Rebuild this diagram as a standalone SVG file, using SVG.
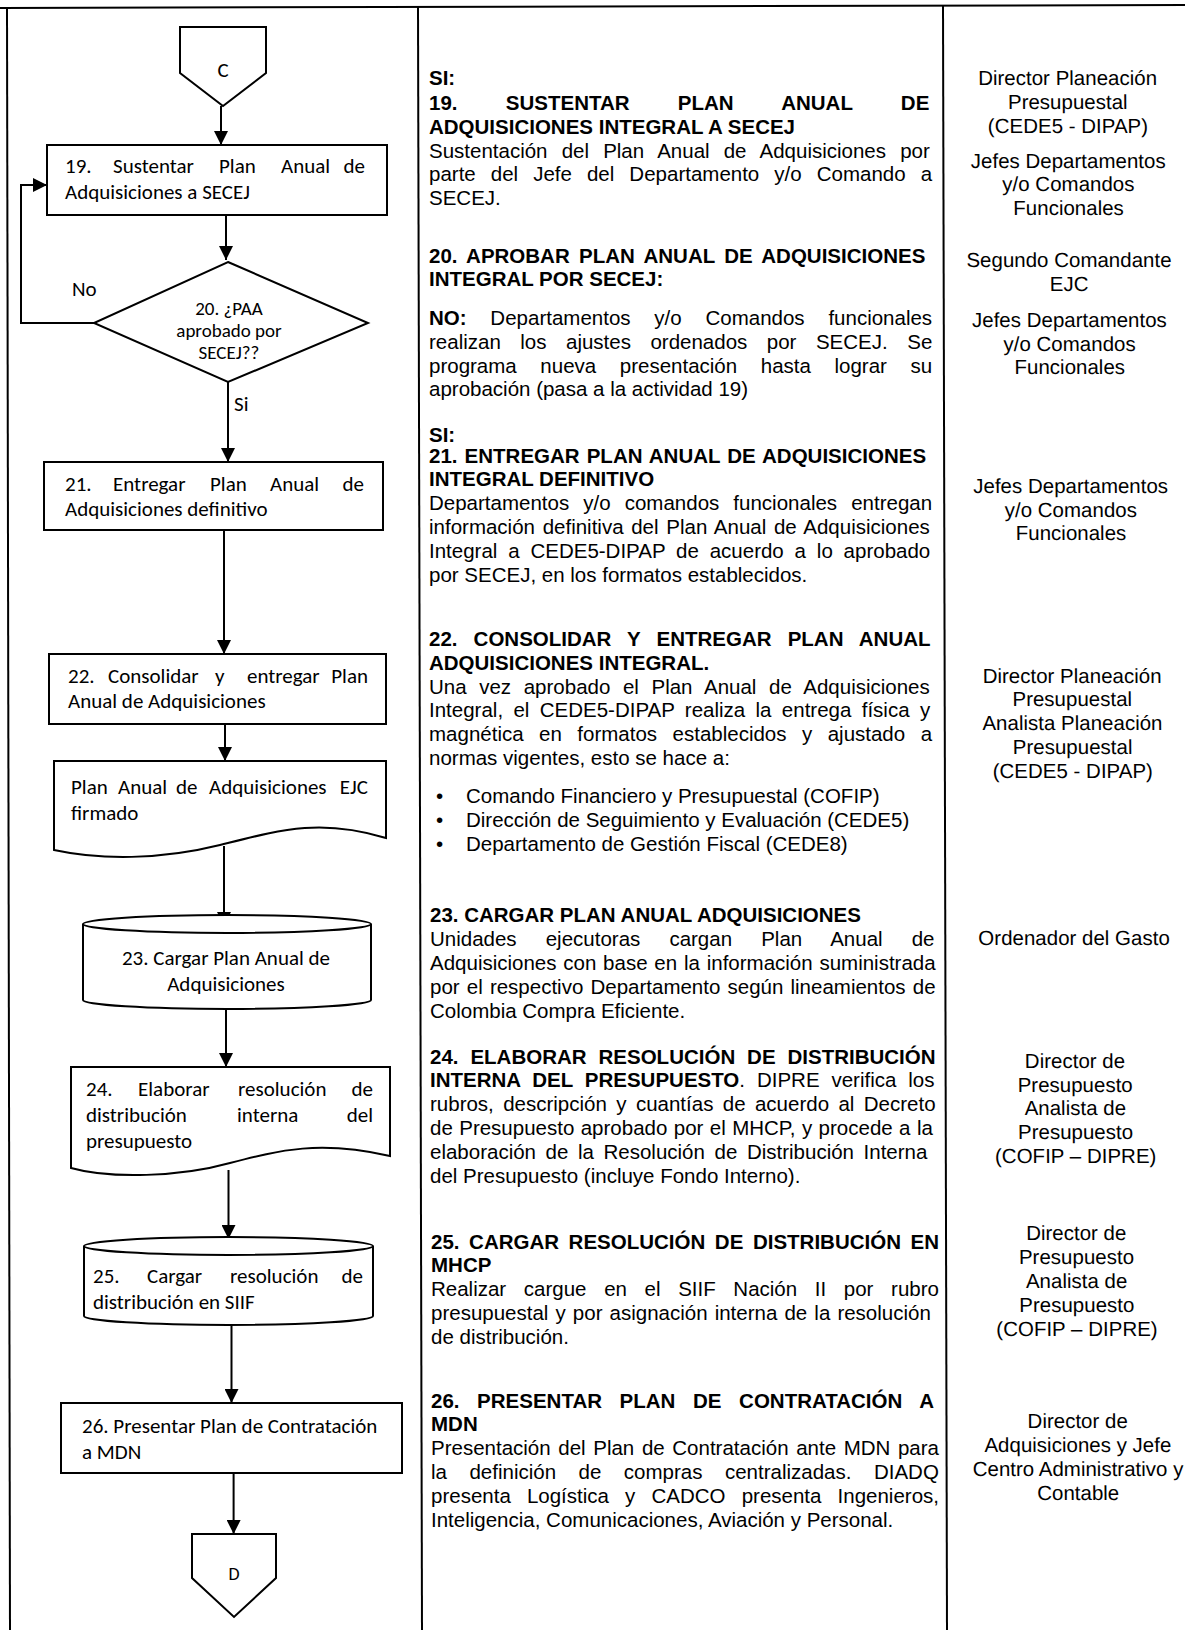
<svg xmlns="http://www.w3.org/2000/svg" width="1185" height="1630" viewBox="0 0 1185 1630">
<defs>
<marker id="ah" viewBox="0 0 14 14" refX="14" refY="7" markerWidth="14" markerHeight="14" markerUnits="userSpaceOnUse" orient="auto"><path d="M0,0 L14,7 L0,14 Z" fill="#000"/></marker>
<style>
.fr{fill:none;stroke:#000;stroke-width:2}
.sh{fill:#fff;stroke:#000;stroke-width:2}
.cn{fill:none;stroke:#000;stroke-width:2;marker-end:url(#ah)}
.lt{font-family:Carlito,Lato,"Open Sans",sans-serif;font-size:21px;fill:#000}
.ltm{font-family:Carlito,Lato,"Open Sans",sans-serif;font-size:21px;fill:#000;text-anchor:middle}
.lte{font-family:Carlito,Lato,"Open Sans",sans-serif;font-size:21px;fill:#000;text-anchor:end}
.dt{font-family:Carlito,Lato,"Open Sans",sans-serif;font-size:19px;fill:#000;text-anchor:middle}
.m{font-family:"Liberation Sans",Arial,sans-serif;font-size:20.5px;fill:#000}
.mb{font-family:"Liberation Sans",Arial,sans-serif;font-size:20.5px;font-weight:bold;fill:#000}
.r{font-family:"Liberation Sans",Arial,sans-serif;font-size:20.5px;fill:#000;text-anchor:middle}
</style>
</defs>
<rect width="1185" height="1630" fill="#fff"/>
<g id="frame">
<path class="fr" d="M0,8 L1185,5" stroke-width="2.5"/>
<path class="fr" d="M7,8 L10,1630"/>
<path class="fr" d="M418,7 L422,1630"/>
<path class="fr" d="M943,6 L947,1630"/>
</g>
<g id="connectors">
<path class="cn" d="M221,106 V145"/>
<path class="cn" d="M226,215 V260"/>
<path class="cn" d="M94,323 H21 V185 H47"/>
<path class="cn" d="M228,382 V462"/>
<path class="cn" d="M224,530 V654"/>
<path class="cn" d="M225,724 V761"/>
<path class="cn" d="M224,846 V926"/>
<path class="cn" d="M226,1009 V1067"/>
<path class="cn" d="M228.5,1170 V1239"/>
<path class="cn" d="M231.5,1325 V1403"/>
<path class="cn" d="M233.6,1473 V1534"/>
<text class="lt" x="72" y="296">No</text>
<text class="lt" x="234" y="411">Si</text>
</g>
<g id="nodeC">
<path class="sh" d="M180,27 H266 V73 L223,106 L180,73 Z"/>
<text class="ltm" x="223" y="77">C</text>
</g>
<g id="node19">
<rect class="sh" x="47" y="145" width="340" height="70"/>
<text class="lt" y="173"><tspan x="65">19.</tspan><tspan x="113">Sustentar</tspan><tspan x="219">Plan</tspan><tspan x="281">Anual</tspan></text>
<text class="lte" x="365" y="173">de</text>
<text class="lt" x="65" y="199">Adquisiciones a SECEJ</text>
</g>
<g id="node20">
<path class="sh" d="M228,262 L368,323 L228,382 L94,323 Z"/>
<text class="dt" x="229" y="315">20. ¿PAA</text>
<text class="dt" x="229" y="337">aprobado por</text>
<text class="dt" x="229" y="359">SECEJ??</text>
</g>
<g id="node21">
<rect class="sh" x="44" y="462" width="339" height="68"/>
<text class="lt" y="491"><tspan x="65">21.</tspan><tspan x="113">Entregar</tspan><tspan x="210">Plan</tspan><tspan x="270">Anual</tspan></text>
<text class="lte" x="364" y="491">de</text>
<text class="lt" x="65" y="516">Adquisiciones definitivo</text>
</g>
<g id="node22">
<rect class="sh" x="49" y="654" width="337" height="70"/>
<text class="lt" y="683"><tspan x="68">22.</tspan><tspan x="108">Consolidar</tspan><tspan x="215">y</tspan><tspan x="247">entregar</tspan></text>
<text class="lte" x="368" y="683">Plan</text>
<text class="lt" x="68" y="708">Anual de Adquisiciones</text>
</g>
<g id="nodeDoc">
<path class="sh" d="M54,761 H386 V838 C320,818 280,830 220,845 C160,860 100,860 54,850 Z"/>
<text class="lt" y="794"><tspan x="71">Plan</tspan><tspan x="118">Anual</tspan><tspan x="176">de</tspan><tspan x="209">Adquisiciones</tspan></text>
<text class="lte" x="368" y="794">EJC</text>
<text class="lt" x="71" y="820">firmado</text>
</g>
<g id="node23">
<path class="sh" d="M83,924 V1000 A144,9 0 0 0 371,1000 V924 A144,9 0 0 0 83,924 Z"/>
<path class="fr" d="M83,924 A144,9 0 0 0 371,924"/>
<text class="ltm" x="226" y="965">23. Cargar Plan Anual de</text>
<text class="ltm" x="226" y="991">Adquisiciones</text>
</g>
<g id="node24">
<path class="sh" d="M71,1067 H390 V1156 C320,1140 280,1150 230,1163 C180,1177 110,1179 71,1168 Z"/>
<text class="lt" y="1096"><tspan x="86">24.</tspan><tspan x="138">Elaborar</tspan><tspan x="238">resolución</tspan></text>
<text class="lte" x="373" y="1096">de</text>
<text class="lt" y="1122"><tspan x="86">distribución</tspan><tspan x="237">interna</tspan></text>
<text class="lte" x="373" y="1122">del</text>
<text class="lt" x="86" y="1148">presupuesto</text>
</g>
<g id="node25">
<path class="sh" d="M84,1246 V1316 A144.5,9 0 0 0 373,1316 V1246 A144.5,9 0 0 0 84,1246 Z"/>
<path class="fr" d="M84,1246 A144.5,9 0 0 0 373,1246"/>
<text class="lt" y="1283"><tspan x="93">25.</tspan><tspan x="147">Cargar</tspan><tspan x="230">resolución</tspan></text>
<text class="lte" x="363" y="1283">de</text>
<text class="lt" x="93" y="1309">distribución en SIIF</text>
</g>
<g id="node26">
<rect class="sh" x="61" y="1403" width="341" height="70"/>
<text class="lt" x="82" y="1433">26. Presentar Plan de Contratación</text>
<text class="lt" x="82" y="1459">a MDN</text>
</g>
<g id="nodeD">
<path class="sh" d="M192,1534 H276 V1578 L234,1617 L192,1578 Z"/>
<text class="ltm" x="234" y="1580" style="font-size:18px">D</text>
</g>
<g id="descriptions">
<text class="mb" x="429" y="85">SI:</text>
<text class="mb" x="429" y="110" style="word-spacing:42.6px">19. SUSTENTAR PLAN ANUAL DE</text>
<text class="mb" x="429" y="133.5">ADQUISICIONES INTEGRAL A SECEJ</text>
<text class="m" x="429" y="157.5" style="word-spacing:8.43px">Sustentación del Plan Anual de Adquisiciones por</text>
<text class="m" x="429" y="181.3" style="word-spacing:9.35px">parte del Jefe del Departamento y/o Comando a</text>
<text class="m" x="429" y="205">SECEJ.</text>
<text class="mb" x="429" y="262.5" style="word-spacing:3.66px">20. APROBAR PLAN ANUAL DE ADQUISICIONES</text>
<text class="mb" x="429" y="286">INTEGRAL POR SECEJ:</text>
<text class="m" x="429" y="325" style="word-spacing:18.1px"><tspan font-weight="bold">NO:</tspan> Departamentos y/o Comandos funcionales</text>
<text class="m" x="429" y="348.8" style="word-spacing:13.8px">realizan los ajustes ordenados por SECEJ. Se</text>
<text class="m" x="429" y="372.6" style="word-spacing:17.9px">programa nueva presentación hasta lograr su</text>
<text class="m" x="429" y="396.4">aprobación (pasa a la actividad 19)</text>
<text class="mb" x="429" y="442">SI:</text>
<text class="mb" x="429" y="462.5" style="word-spacing:1.38px">21. ENTREGAR PLAN ANUAL DE ADQUISICIONES</text>
<text class="mb" x="429" y="486.3">INTEGRAL DEFINITIVO</text>
<text class="m" x="429" y="510.1" style="word-spacing:8.4px">Departamentos y/o comandos funcionales entregan</text>
<text class="m" x="429" y="533.9" style="word-spacing:1.98px">información definitiva del Plan Anual de Adquisiciones</text>
<text class="m" x="429" y="557.7" style="word-spacing:5.13px">Integral a CEDE5-DIPAP de acuerdo a lo aprobado</text>
<text class="m" x="429" y="581.5">por SECEJ, en los formatos establecidos.</text>
<text class="mb" x="429" y="646" style="word-spacing:10.4px">22. CONSOLIDAR Y ENTREGAR PLAN ANUAL</text>
<text class="mb" x="429" y="669.8">ADQUISICIONES INTEGRAL.</text>
<text class="m" x="429" y="693.6" style="word-spacing:6.9px">Una vez aprobado el Plan Anual de Adquisiciones</text>
<text class="m" x="429" y="717.4" style="word-spacing:4.64px">Integral, el CEDE5-DIPAP realiza la entrega física y</text>
<text class="m" x="429" y="741.2" style="word-spacing:9.77px">magnética en formatos establecidos y ajustado a</text>
<text class="m" x="429" y="765">normas vigentes, esto se hace a:</text>
<text class="m" x="436" y="803">•</text><text class="m" x="466" y="803">Comando Financiero y Presupuestal (COFIP)</text>
<text class="m" x="436" y="827">•</text><text class="m" x="466" y="827">Dirección de Seguimiento y Evaluación (CEDE5)</text>
<text class="m" x="436" y="851">•</text><text class="m" x="466" y="851">Departamento de Gestión Fiscal (CEDE8)</text>
<text class="mb" x="430" y="922.4">23. CARGAR PLAN ANUAL ADQUISICIONES</text>
<text class="m" x="430" y="946.2" style="word-spacing:23.4px">Unidades ejecutoras cargan Plan Anual de</text>
<text class="m" x="430" y="970" style="word-spacing:1.09px">Adquisiciones con base en la información suministrada</text>
<text class="m" x="430" y="993.8" style="word-spacing:1.45px">por el respectivo Departamento según lineamientos de</text>
<text class="m" x="430" y="1017.6">Colombia Compra Eficiente.</text>
<text class="mb" x="430" y="1063.6" style="word-spacing:6.23px">24. ELABORAR RESOLUCIÓN DE DISTRIBUCIÓN</text>
<text class="m" x="430" y="1087.4" style="word-spacing:6.2px"><tspan font-weight="bold">INTERNA DEL PRESUPUESTO</tspan>. DIPRE verifica los</text>
<text class="m" x="430" y="1111.2" style="word-spacing:3.69px">rubros, descripción y cuantías de acuerdo al Decreto</text>
<text class="m" x="430" y="1135" style="word-spacing:0.71px">de Presupuesto aprobado por el MHCP, y procede a la</text>
<text class="m" x="430" y="1158.8" style="word-spacing:3.89px">elaboración de la Resolución de Distribución Interna</text>
<text class="m" x="430" y="1182.6">del Presupuesto (incluye Fondo Interno).</text>
<text class="mb" x="431" y="1248.5" style="word-spacing:3.88px">25. CARGAR RESOLUCIÓN DE DISTRIBUCIÓN EN</text>
<text class="mb" x="431" y="1272.3">MHCP</text>
<text class="m" x="431" y="1296.1" style="word-spacing:11.93px">Realizar cargue en el SIIF Nación II por rubro</text>
<text class="m" x="431" y="1319.9" style="word-spacing:1.4px">presupuestal y por asignación interna de la resolución</text>
<text class="m" x="431" y="1343.7">de distribución.</text>
<text class="mb" x="431" y="1407.5" style="word-spacing:11.9px">26. PRESENTAR PLAN DE CONTRATACIÓN A</text>
<text class="mb" x="431" y="1431.3">MDN</text>
<text class="m" x="431" y="1455.1" style="word-spacing:1.92px">Presentación del Plan de Contratación ante MDN para</text>
<text class="m" x="431" y="1478.9" style="word-spacing:16.8px">la definición de compras centralizadas. DIADQ</text>
<text class="m" x="431" y="1502.7" style="word-spacing:10.44px">presenta Logística y CADCO presenta Ingenieros,</text>
<text class="m" x="431" y="1526.5">Inteligencia, Comunicaciones, Aviación y Personal.</text>
</g>
<g id="responsables" transform="skewX(0.43)">
<text class="r" x="1067" y="85">Director Planeación</text>
<text class="r" x="1067" y="108.7">Presupuestal</text>
<text class="r" x="1067" y="132.6">(CEDE5 - DIPAP)</text>
<text class="r" x="1067" y="168">Jefes Departamentos</text>
<text class="r" x="1067" y="190.7">y/o Comandos</text>
<text class="r" x="1067" y="214.6">Funcionales</text>
<text class="r" x="1067" y="267">Segundo Comandante</text>
<text class="r" x="1067" y="290.8">EJC</text>
<text class="r" x="1067" y="326.7">Jefes Departamentos</text>
<text class="r" x="1067" y="350.6">y/o Comandos</text>
<text class="r" x="1067" y="374.5">Funcionales</text>
<text class="r" x="1067" y="492.8">Jefes Departamentos</text>
<text class="r" x="1067" y="516.7">y/o Comandos</text>
<text class="r" x="1067" y="540.5">Funcionales</text>
<text class="r" x="1067" y="683.5">Director Planeación</text>
<text class="r" x="1067" y="706.4">Presupuestal</text>
<text class="r" x="1067" y="730.2">Analista Planeación</text>
<text class="r" x="1067" y="754.1">Presupuestal</text>
<text class="r" x="1067" y="778">(CEDE5 - DIPAP)</text>
<text class="r" x="1067" y="945.3">Ordenador del Gasto</text>
<text class="r" x="1067" y="1067.8">Director de</text>
<text class="r" x="1067" y="1091.6">Presupuesto</text>
<text class="r" x="1067" y="1115.5">Analista de</text>
<text class="r" x="1067" y="1139.4">Presupuesto</text>
<text class="r" x="1067" y="1163.3">(COFIP – DIPRE)</text>
<text class="r" x="1067" y="1240">Director de</text>
<text class="r" x="1067" y="1264">Presupuesto</text>
<text class="r" x="1067" y="1287.8">Analista de</text>
<text class="r" x="1067" y="1311.7">Presupuesto</text>
<text class="r" x="1067" y="1335.6">(COFIP – DIPRE)</text>
<text class="r" x="1067" y="1428">Director de</text>
<text class="r" x="1067" y="1451.8">Adquisiciones y Jefe</text>
<text class="r" x="1067" y="1475.7">Centro Administrativo y</text>
<text class="r" x="1067" y="1499.6">Contable</text>
</g>
</svg>
